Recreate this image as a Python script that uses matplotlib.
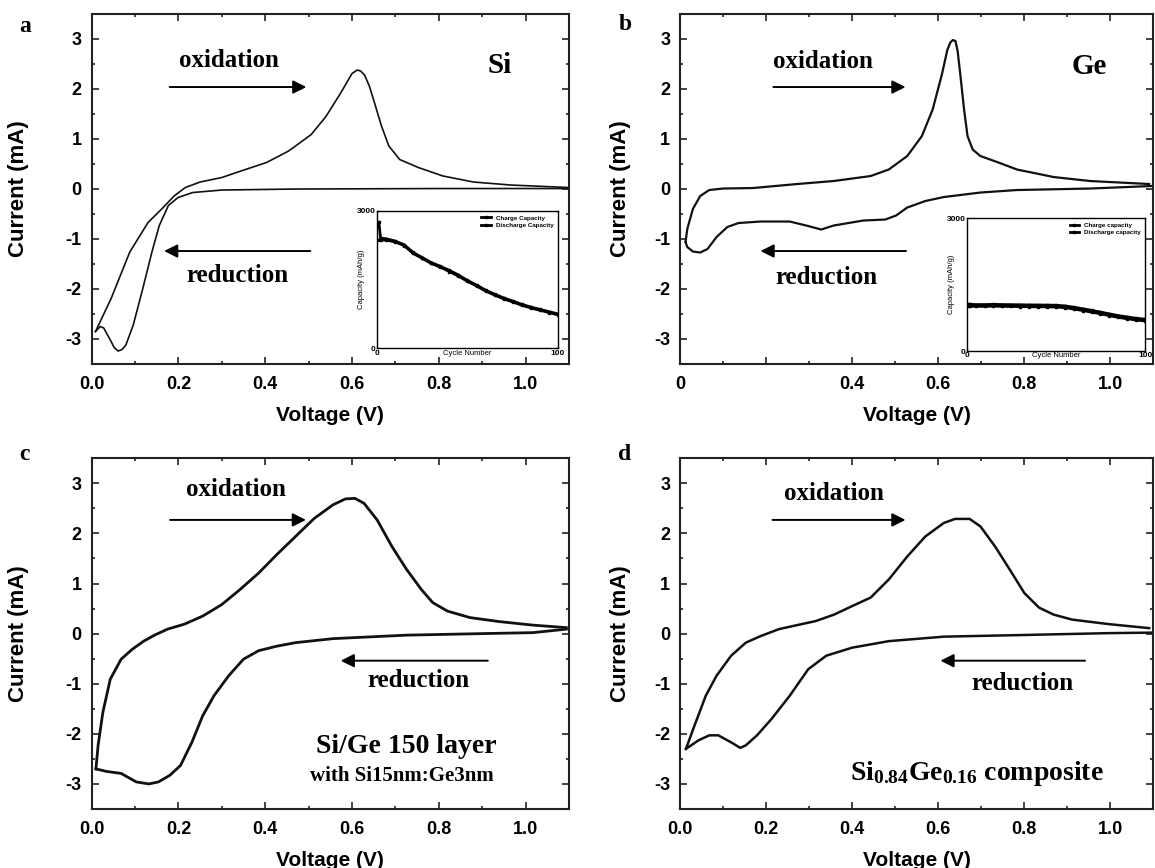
import matplotlib
matplotlib.use('Agg')
import matplotlib.pyplot as plt
from matplotlib.ticker import MultipleLocator, FormatStrFormatter, FixedLocator, FixedFormatter

plt.rcParams['font.family'] = 'Liberation Sans'
plt.rcParams['font.weight'] = 'bold'
plt.rcParams['axes.unicode_minus'] = False
plt.rcParams['mathtext.fontset'] = 'custom'
plt.rcParams['mathtext.rm'] = 'Liberation Serif:bold'
plt.rcParams['mathtext.default'] = 'rm'

# voltametria ciclica - varredura anodica (ox) e catodica (red)
si_ox_v = [0.009, 0.045, 0.088, 0.130, 0.165, 0.190, 0.216, 0.250, 0.300, 0.344, 0.403, 0.454,
           0.506, 0.540, 0.574, 0.590, 0.600, 0.612, 0.620, 0.629, 0.640, 0.650, 0.668, 0.685,
           0.710, 0.753, 0.810, 0.880, 0.966, 1.100]
si_ox_i = [-2.86, -2.20, -1.27, -0.68, -0.38, -0.15, 0.02, 0.13, 0.22, 0.35, 0.52, 0.75,
           1.08, 1.44, 1.91, 2.15, 2.30, 2.37, 2.35, 2.27, 2.05, 1.77, 1.25, 0.85,
           0.58, 0.42, 0.25, 0.13, 0.07, 0.02]
si_red_v = [1.100, 0.810, 0.470, 0.300, 0.233, 0.199, 0.177, 0.156, 0.139, 0.118, 0.096, 0.079,
            0.070, 0.061, 0.052, 0.045, 0.028, 0.020, 0.009]
si_red_i = [0.00, 0.00, -0.01, -0.03, -0.08, -0.18, -0.34, -0.74, -1.27, -2.00, -2.73, -3.13,
            -3.22, -3.25, -3.18, -3.06, -2.79, -2.76, -2.86]

ge_ox_v = [0.013, 0.017, 0.030, 0.047, 0.068, 0.100, 0.170, 0.272, 0.357, 0.443, 0.485, 0.528,
           0.562, 0.587, 0.609, 0.621, 0.628, 0.634, 0.640, 0.645, 0.651, 0.660, 0.668, 0.680,
           0.698, 0.740, 0.783, 0.868, 0.953, 1.090]
ge_ox_i = [-1.07, -0.81, -0.41, -0.15, -0.03, 0.00, 0.01, 0.09, 0.15, 0.25, 0.38, 0.65,
           1.05, 1.58, 2.30, 2.77, 2.92, 2.97, 2.95, 2.75, 2.30, 1.58, 1.05, 0.78,
           0.65, 0.52, 0.38, 0.23, 0.15, 0.09]
ge_red_v = [1.094, 0.953, 0.783, 0.698, 0.613, 0.570, 0.528, 0.502, 0.477, 0.426, 0.357, 0.328,
            0.298, 0.255, 0.187, 0.136, 0.110, 0.085, 0.064, 0.047, 0.030, 0.017, 0.013]
ge_red_i = [0.05, 0.00, -0.03, -0.08, -0.17, -0.25, -0.38, -0.54, -0.62, -0.64, -0.74, -0.82,
            -0.75, -0.66, -0.66, -0.69, -0.77, -0.97, -1.21, -1.28, -1.26, -1.17, -1.07]

ml_ox_v = [0.010, 0.015, 0.026, 0.043, 0.068, 0.094, 0.120, 0.145, 0.175, 0.214, 0.256, 0.300,
           0.342, 0.385, 0.427, 0.470, 0.513, 0.556, 0.585, 0.607, 0.628, 0.658, 0.692, 0.726,
           0.760, 0.786, 0.820, 0.872, 0.940, 1.017, 1.094]
ml_ox_i = [-2.70, -2.23, -1.57, -0.91, -0.51, -0.31, -0.15, -0.03, 0.09, 0.19, 0.35, 0.58,
           0.88, 1.21, 1.58, 1.94, 2.30, 2.57, 2.69, 2.70, 2.60, 2.27, 1.74, 1.28,
           0.88, 0.62, 0.45, 0.32, 0.24, 0.17, 0.12]
ml_red_v = [1.094, 1.017, 0.897, 0.726, 0.556, 0.470, 0.427, 0.385, 0.350, 0.316, 0.282, 0.256,
            0.231, 0.205, 0.180, 0.154, 0.132, 0.103, 0.068, 0.034, 0.010]
ml_red_i = [0.09, 0.02, 0.00, -0.03, -0.10, -0.18, -0.25, -0.34, -0.51, -0.84, -1.24, -1.64,
            -2.17, -2.63, -2.83, -2.96, -3.00, -2.96, -2.79, -2.75, -2.70]

cp_ox_v = [0.014, 0.034, 0.060, 0.085, 0.119, 0.153, 0.187, 0.230, 0.272, 0.315, 0.358, 0.400,
           0.443, 0.485, 0.528, 0.570, 0.613, 0.639, 0.673, 0.698, 0.732, 0.766, 0.800, 0.834,
           0.868, 0.911, 0.996, 1.090]
cp_ox_i = [-2.30, -1.83, -1.24, -0.84, -0.44, -0.18, -0.05, 0.09, 0.17, 0.25, 0.38, 0.55,
           0.72, 1.08, 1.54, 1.94, 2.21, 2.29, 2.29, 2.14, 1.74, 1.28, 0.81, 0.52,
           0.38, 0.28, 0.19, 0.11]
cp_red_v = [1.094, 0.996, 0.783, 0.613, 0.485, 0.400, 0.340, 0.298, 0.255, 0.213, 0.179, 0.153,
            0.140, 0.119, 0.089, 0.068, 0.043, 0.014]
cp_red_i = [0.02, 0.01, -0.03, -0.06, -0.15, -0.28, -0.44, -0.71, -1.24, -1.70, -2.03, -2.23,
            -2.28, -2.17, -2.03, -2.03, -2.13, -2.30]

# capacidade x numero de ciclos (insets)
ciclos = [1, 2, 5, 10, 15, 20, 25, 30, 35, 40, 45, 50, 55, 60, 65, 70, 75, 80, 85, 90, 95, 100]
si_carga = [2750, 2400, 2390, 2340, 2260, 2090, 1980, 1870, 1790, 1700, 1600, 1480, 1380, 1270,
            1180, 1100, 1030, 960, 900, 850, 800, 750]
si_descarga = [2360, 2370, 2360, 2320, 2240, 2070, 1960, 1850, 1770, 1675, 1575, 1460, 1360, 1250,
               1160, 1080, 1010, 940, 880, 830, 780, 730]
ge_carga = [1060, 1055, 1050, 1050, 1055, 1050, 1048, 1045, 1042, 1040, 1038, 1035, 1020, 990,
            955, 920, 880, 840, 800, 770, 740, 720]
ge_descarga = [1020, 1015, 1010, 1010, 1015, 1010, 1008, 1005, 1002, 1000, 998, 995, 980, 950,
               915, 880, 840, 800, 760, 730, 700, 680]

serif = 'Liberation Serif'


def estilo(ax, xlab_y, ylab_x):
    ax.set_xlim(0, 1.1)
    ax.set_ylim(-3.5, 3.5)
    ax.xaxis.set_major_locator(MultipleLocator(0.2))
    ax.xaxis.set_minor_locator(MultipleLocator(0.1))
    ax.yaxis.set_major_locator(MultipleLocator(1))
    ax.yaxis.set_minor_locator(MultipleLocator(0.5))
    ax.xaxis.set_major_formatter(FormatStrFormatter('%.1f'))
    ax.yaxis.set_major_formatter(FormatStrFormatter('%d'))
    ax.tick_params(which='both', direction='in', top=True, right=True, width=1.2, color='#222222')
    ax.tick_params(which='major', length=5, labelsize=13)
    ax.tick_params(which='minor', length=2.5)
    ax.tick_params(axis='x', which='major', pad=9)
    ax.tick_params(axis='y', which='major', pad=7)
    for s in ax.spines.values():
        s.set_linewidth(1.5)
        s.set_color('#222222')
    ax.set_xlabel('Voltage (V)', fontsize=15, fontweight='bold')
    ax.set_ylabel('Current (mA)', fontsize=16, fontweight='bold')
    ax.xaxis.set_label_coords(0.5, xlab_y)
    ax.yaxis.set_label_coords(ylab_x, 0.5)


def seta(ax, x0, x1, y):
    ax.annotate('', xy=(x1, y), xytext=(x0, y),
                arrowprops=dict(arrowstyle='-|>', lw=1.4, color='black', mutation_scale=20,
                                shrinkA=0, shrinkB=0))


def texto(ax, x, y, s, size):
    ax.text(x, y, s, ha='center', va='center', family=serif, fontweight='bold', fontsize=size)


def inset(rect, carga, descarga, nomes):
    axi = fig.add_axes(rect)
    axi.plot(ciclos, carga, '-s', color='black', lw=2.0, ms=1.6, label=nomes[0])
    axi.plot(ciclos, descarga, '-s', color='black', lw=2.0, ms=1.6, label=nomes[1])
    axi.set_xlim(0, 100)
    axi.set_ylim(0, 3000)
    axi.xaxis.set_major_locator(FixedLocator([0, 100]))
    axi.yaxis.set_major_locator(FixedLocator([0, 3000]))
    axi.tick_params(direction='in', length=2, labelsize=6, pad=1)
    for s in axi.spines.values():
        s.set_linewidth(1.0)
    axi.set_xlabel('Cycle Number', fontsize=5.5, labelpad=-5)
    axi.set_ylabel('Capacity (mAh/g)', fontsize=5.5, labelpad=-6)
    axi.legend(loc='upper right', fontsize=4.5, frameon=False, handlelength=1.5,
               borderaxespad=0.3, labelspacing=0.3)
    return axi


fig = plt.figure(figsize=(11.55, 8.68), dpi=100)
ax1 = fig.add_axes([0.0793, 0.5812, 0.4133, 0.4032])
ax2 = fig.add_axes([0.5887, 0.5812, 0.4100, 0.4032])
ax3 = fig.add_axes([0.0793, 0.0680, 0.4133, 0.4040])
ax4 = fig.add_axes([0.5887, 0.0680, 0.4100, 0.4040])

# (a) Si
ax1.plot(si_ox_v, si_ox_i, color='#111111', lw=1.2)
ax1.plot(si_red_v, si_red_i, color='#111111', lw=1.2)
estilo(ax1, -0.12, -0.131)
seta(ax1, 0.18, 0.495, 2.03)
texto(ax1, 0.316, 2.57, 'oxidation', 18)
seta(ax1, 0.504, 0.167, -1.25)
texto(ax1, 0.336, -1.73, 'reduction', 18)
texto(ax1, 0.94, 2.47, 'Si', 21)

# (b) Ge
ax2.plot(ge_ox_v, ge_ox_i, color='#111111', lw=1.6)
ax2.plot(ge_red_v, ge_red_i, color='#111111', lw=1.6)
estilo(ax2, -0.12, -0.104)
ax2.xaxis.set_major_locator(FixedLocator([0, 0.2, 0.4, 0.6, 0.8, 1.0]))
ax2.xaxis.set_major_formatter(FixedFormatter(['0', '', '0.4', '0.6', '0.8', '1.0']))
seta(ax2, 0.217, 0.524, 2.03)
texto(ax2, 0.332, 2.54, 'oxidation', 18)
seta(ax2, 0.525, 0.187, -1.25)
texto(ax2, 0.34, -1.77, 'reduction', 18)
texto(ax2, 0.95, 2.44, 'Ge', 21)

# (c) multicamada Si/Ge
ax3.plot(ml_ox_v, ml_ox_i, color='#111111', lw=2.0)
ax3.plot(ml_red_v, ml_red_i, color='#111111', lw=2.0)
estilo(ax3, -0.12, -0.131)
seta(ax3, 0.181, 0.494, 2.27)
texto(ax3, 0.333, 2.87, 'oxidation', 18)
seta(ax3, 0.913, 0.574, -0.54)
texto(ax3, 0.752, -0.94, 'reduction', 18)
texto(ax3, 0.726, -2.26, 'Si/Ge 150 layer', 20)
texto(ax3, 0.714, -2.85, 'with Si15nm:Ge3nm', 15)

# (d) composito Si0.84Ge0.16
ax4.plot(cp_ox_v, cp_ox_i, color='#111111', lw=1.8)
ax4.plot(cp_red_v, cp_red_i, color='#111111', lw=1.8)
estilo(ax4, -0.12, -0.104)
seta(ax4, 0.215, 0.524, 2.27)
texto(ax4, 0.358, 2.80, 'oxidation', 18)
seta(ax4, 0.941, 0.605, -0.54)
texto(ax4, 0.796, -1.00, 'reduction', 18)
texto(ax4, 0.69, -2.79, r'Si$_{0.84}$Ge$_{0.16}$ composite', 20)

# insets de ciclagem
inset([0.3264, 0.5987, 0.1567, 0.1585], si_carga, si_descarga,
      ['Charge Capacity', 'Discharge Capacity'])
inset([0.8370, 0.5956, 0.1544, 0.1529], ge_carga, ge_descarga,
      ['Charge capacity', 'Discharge capacity'])

for letra, x, y in [('a', 25, 27), ('b', 625, 25), ('c', 24, 455), ('d', 625, 455)]:
    fig.text(x / 1155, 1 - y / 868, letra, family=serif, fontsize=17, ha='center', va='center')

fig.savefig('out.png', dpi=100)
